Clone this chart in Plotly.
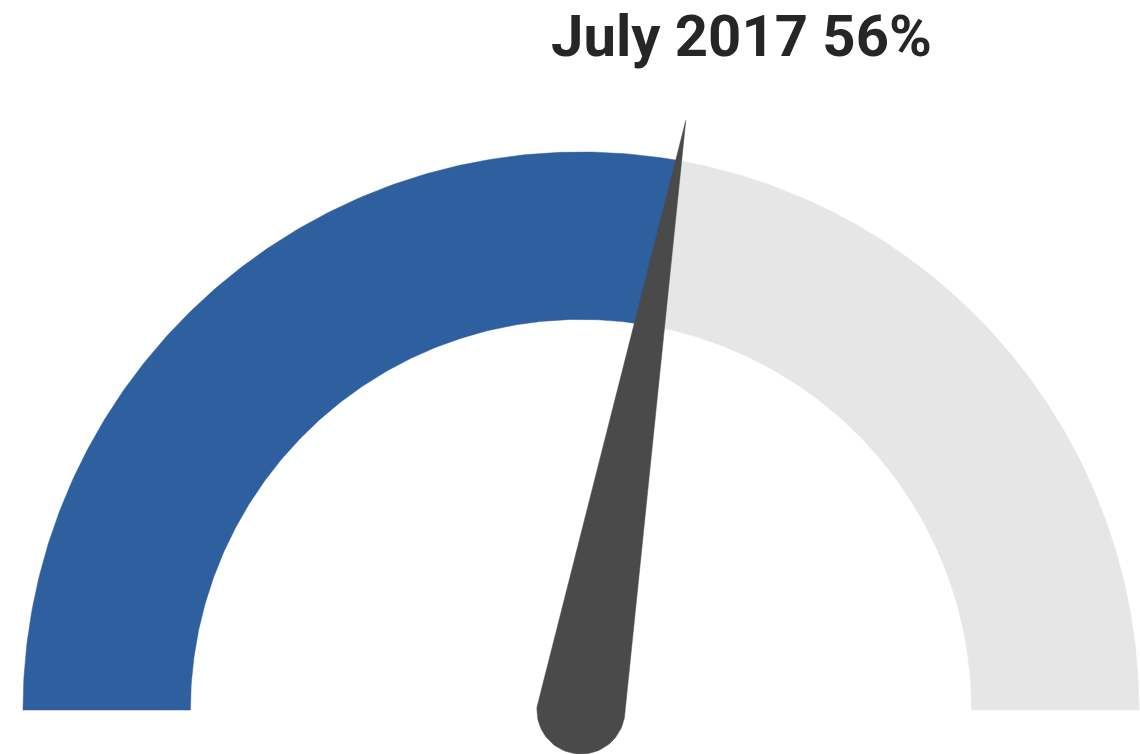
import numpy as np
import plotly.graph_objects as go

# ---- data ----
period_label = "July 2017"
gauge_value = 55.6        # percent (needle / band split)
gauge_max = 100

# ---- style / geometry ----
W, H = 1140, 754
cx_px, cy_px, R_px = 581, 710, 558   # gauge centre & outer radius in pixels
inner_ratio = 0.70
needle_len = 1.073
needle_base = 0.079
blue = "#2e5f9e"
grey = "#e6e6e6"
needle_col = "#4a4a4a"

frac = gauge_value / gauge_max
split = np.pi * (1 - frac)


def band(a0, a1, r_in, r_out, n=200):
    t = np.linspace(a0, a1, n)
    xs = np.concatenate([r_out * np.cos(t), r_in * np.cos(t[::-1])])
    ys = np.concatenate([r_out * np.sin(t), r_in * np.sin(t[::-1])])
    return np.append(xs, xs[0]), np.append(ys, ys[0])


fig = go.Figure()
bx, by = band(np.pi, split, inner_ratio, 1.0)
fig.add_trace(go.Scatter(x=bx, y=by, fill="toself", fillcolor=blue, mode="lines",
                         line=dict(width=0.5, color=blue), hoverinfo="skip"))
gx, gy = band(split, 0, inner_ratio, 1.0)
fig.add_trace(go.Scatter(x=gx, y=gy, fill="toself", fillcolor=grey, mode="lines",
                         line=dict(width=0.5, color=grey), hoverinfo="skip"))

# needle
t = np.linspace(split + np.pi / 2, split + 3 * np.pi / 2, 60)
nx = np.concatenate([[needle_len * np.cos(split)], needle_base * np.cos(t), [needle_len * np.cos(split)]])
ny = np.concatenate([[needle_len * np.sin(split)], needle_base * np.sin(t), [needle_len * np.sin(split)]])
fig.add_trace(go.Scatter(x=nx, y=ny, fill="toself", fillcolor=needle_col, mode="lines",
                         line=dict(width=0.5, color=needle_col), hoverinfo="skip"))

fig.add_annotation(text=f"<b>{period_label} {round(gauge_value)}%</b>", xref="paper", yref="paper",
                   x=741 / W, y=1, xanchor="center", yanchor="top",
                   showarrow=False, font=dict(family="Roboto", size=58, color="#262626"))

fig.update_layout(
    width=W, height=H, margin=dict(l=0, r=0, t=0, b=0),
    paper_bgcolor="white", plot_bgcolor="white", showlegend=False,
    xaxis=dict(range=[-cx_px / R_px, (W - cx_px) / R_px], visible=False, fixedrange=True),
    yaxis=dict(range=[-(H - cy_px) / R_px, cy_px / R_px], visible=False, fixedrange=True),
)
fig.write_html("out.html", config={"displayModeBar": False},
               post_script="document.body.style.margin='0';document.body.style.overflow='hidden';")
